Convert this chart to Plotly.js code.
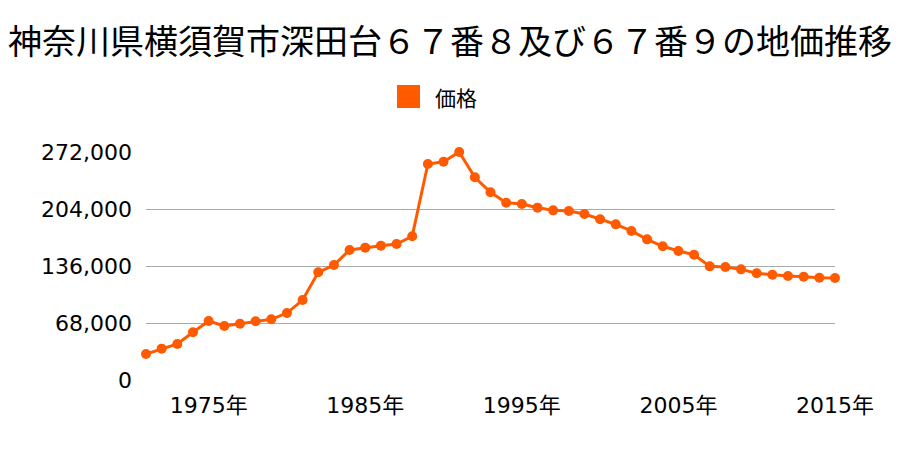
<!DOCTYPE html>
<html>
<head>
<meta charset="utf-8">
<script src="https://cdn.plot.ly/plotly-3.0.1.min.js"></script>
<style>html,body{margin:0;padding:0;background:#fff;}#chart{width:900px;height:450px;}</style>
</head>
<body>
<div id="chart"></div>
<script>
const years = [1971,1972,1973,1974,1975,1976,1977,1978,1979,1980,1981,1982,1983,1984,1985,1986,1987,1988,1989,1990,1991,1992,1993,1994,1995,1996,1997,1998,1999,2000,2001,2002,2003,2004,2005,2006,2007,2008,2009,2010,2011,2012,2013,2014,2015];
const prices = [31000,37400,43000,56900,70400,64400,67200,70000,72400,79900,95400,128500,137200,155100,157900,160200,162200,171400,257700,260400,272000,241800,223900,211500,210000,205600,202400,201600,198000,191700,185700,177800,167800,159500,153900,149500,135600,134800,132000,127300,125600,124100,123200,122000,121700];
const yTicks = [0,68000,136000,204000,272000];
const yTickText = ["0","68,000","136,000","204,000","272,000"];
const xTicks = [1975,1985,1995,2005,2015];
const xTickText = ["1975年","1985年","1995年","2005年","2015年"];
const seriesName = "価格";
const titleText = "神奈川県横須賀市深田台６７番８及び６７番９の地価推移";

const color = "#ff5a00";
const font = '"Noto Sans CJK JP", "Noto Sans", sans-serif';
const tickFont = '"DejaVu Sans", "Noto Sans CJK JP", sans-serif';

const trace = {
  x: years, y: prices, type: "scatter", mode: "lines+markers",
  name: seriesName, showlegend: false, cliponaxis: false,
  line: {color: color, width: 3},
  marker: {color: color, size: 10}
};

const layout = {
  width: 900, height: 450,
  margin: {l: 146, r: 65, t: 152, b: 70},
  paper_bgcolor: "#fff", plot_bgcolor: "#fff",
  font: {family: font, color: "#000"},
  title: {text: titleText, x: 0.5, xanchor: "center", y: 0.907, yanchor: "middle",
          font: {size: 34, family: font, color: "#000"}},
  showlegend: false,
  xaxis: {range: [1971, 2015], tickvals: xTicks, ticktext: xTickText,
          showgrid: false, zeroline: false, showline: false, ticks: "",
          tickfont: {size: 22, family: tickFont, color: "#000"}, ticklabelstandoff: 10},
  yaxis: {range: [0, 272000], tickvals: yTicks, ticktext: yTickText,
          showgrid: true, gridcolor: "#aaaaaa", gridwidth: 1, zeroline: false, showline: false, ticks: "",
          tickfont: {size: 22, family: tickFont, color: "#000"}, ticklabelstandoff: 13},
  shapes: [{type: "rect", xref: "paper", yref: "paper",
            x0: (397-146)/689, x1: (420-146)/689, y0: (380-108)/228, y1: (380-85)/228,
            fillcolor: color, line: {width: 0}}],
  annotations: [{xref: "paper", yref: "paper", x: (433-146)/689, y: (380-97)/228,
                 xanchor: "left", yanchor: "middle", showarrow: false, text: seriesName,
                 font: {size: 21, family: font, color: "#000"}}]
};

Plotly.newPlot("chart", [trace], layout, {displayModeBar: false, staticPlot: true});
</script>
</body>
</html>
